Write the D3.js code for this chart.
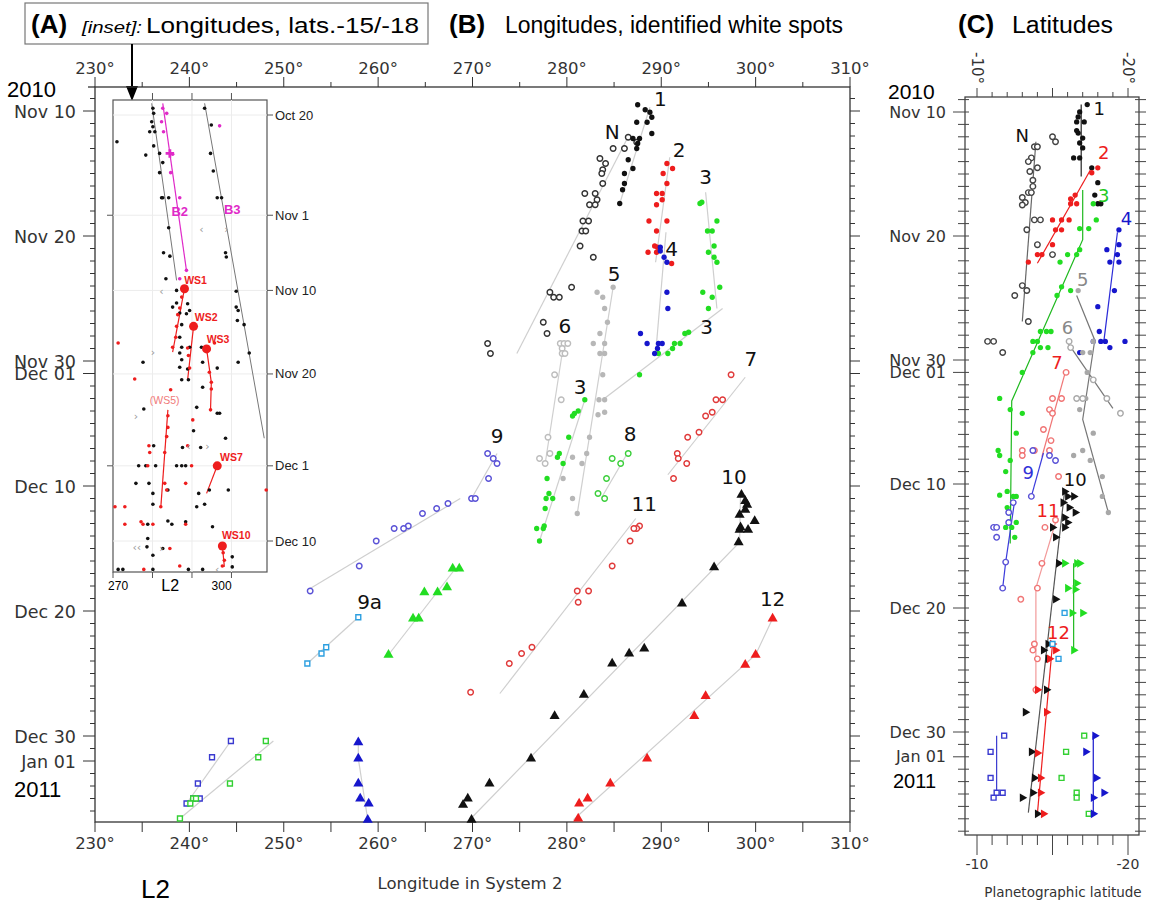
<!DOCTYPE html>
<html lang="en"><head>
<meta charset="utf-8">
<title>White spots: longitudes and latitudes</title>
<script src="https://cdnjs.cloudflare.com/ajax/libs/d3/7.8.5/d3.min.js"></script>
<style>
  body { margin: 0; background: #fff; }
  text { font-family: "DejaVu Sans", Verdana, sans-serif; }
  .arial { font-family: "Liberation Sans", Arial, sans-serif; }
</style>
</head>
<body>
<script>
// ---- panel B : [longitude System 2 (deg), days after 2010 Nov 10] ----
var bN = [[286.5,2.1],[287.4,2.5],[286.1,3.0],[284.9,3.0],[283.5,3.8],[284.1,4.2],[283.8,4.7],[283.7,5.0],[283.8,5.8],[281.9,6.6],[283.0,6.6],[283.2,7.1],[282.4,7.5],[283.0,7.5],[281.7,8.8],[282.3,8.8],[281.6,9.6],[282.0,9.6],[281.4,10.8],[282.8,11.7],[280.5,14.1],[278.2,14.5],[278.6,14.9],[279.2,14.9],[277.5,16.9],[277.9,17.8],[271.6,18.6],[271.9,19.4]];
var b1 = [[287.5,-0.5],[288.3,-0.1],[288.8,0.1],[287.4,0.9],[288.5,0.9],[289.0,0.5],[289.0,1.8],[287.7,2.2],[287.0,2.2],[287.5,2.6],[287.4,3.0],[286.5,3.9],[287.0,4.6],[286.1,5.0],[286.1,5.8],[285.9,6.3],[285.6,7.4]];
var b2 = [[290.6,4.2],[291.2,4.6],[290.2,5.0],[290.6,5.8],[289.5,6.6],[290.1,6.6],[290.1,7.1],[289.5,7.5],[288.7,8.8],[290.6,8.8],[289.5,9.6],[289.3,10.8],[289.6,10.9],[288.6,11.3],[289.5,11.3],[291.1,12.2]];
var b3 = [[294.3,7.3],[294.1,7.4],[295.9,8.8],[294.9,9.6],[295.4,9.6],[295.6,10.8],[295.0,11.3],[295.6,11.7],[295.9,12.1],[296.2,14.1],[294.4,14.5],[295.4,14.9],[295.0,15.8],[292.9,17.7],[292.5,17.8],[292.0,18.6],[291.4,18.6],[291.2,19.0],[290.7,19.4],[289.7,19.4],[287.7,21.1]];
var b4 = [[289.9,10.9],[289.9,11.2],[290.3,11.7],[290.6,12.1],[290.6,14.5],[290.7,15.8],[287.8,17.8],[288.5,18.6],[289.7,18.6],[290.1,18.6],[289.6,19.0],[289.3,19.4]];
var b5 = [[284.9,14.1],[283.2,14.5],[283.8,14.9],[284.0,15.8],[284.3,16.9],[283.5,17.8],[282.8,18.6],[284.0,18.6],[284.0,19.4],[283.5,19.4],[283.8,21.1],[283.4,23.1],[284.0,23.1],[283.3,24.3],[284.0,24.1],[282.4,26.1],[282.1,27.4],[281.6,28.2],[280.6,27.7],[279.6,29.4],[280.6,31.0],[281.1,32.2]];
var b6 = [[279.3,18.6],[279.7,18.6],[280.1,18.6],[279.5,19.0],[279.5,19.4],[279.8,19.4],[278.7,21.1],[279.4,23.1],[278.0,26.1],[278.2,27.4],[277.1,27.8],[277.7,28.2]];
var b3low = [[281.9,23.1],[281.2,24.0],[280.8,24.2],[280.6,24.4],[280.2,26.1],[279.2,27.4],[279.0,27.7],[279.6,28.2],[277.9,29.4],[278.1,30.6],[277.8,31.0],[278.5,31.0],[277.7,31.8],[277.6,33.2],[276.8,33.4],[277.5,33.4],[277.1,34.4]];
var b7 = [[297.4,21.1],[295.8,23.1],[296.5,23.1],[294.7,24.4],[295.4,24.1],[294.0,25.7],[292.8,26.1],[291.7,27.4],[291.8,27.8],[292.7,28.2],[291.3,29.4]];
var b8 = [[286.5,27.4],[284.8,27.8],[285.7,28.2],[284.2,29.4],[283.3,30.6],[284.0,31.0]];
var b9 = [[271.6,27.4],[272.2,27.8],[272.6,28.2],[271.7,29.4],[269.9,31.0],[270.3,31.0],[267.4,31.4],[266.2,31.8],[264.7,32.2],[263.2,33.2],[262.7,33.4],[261.7,33.4],[259.8,34.4],[258.0,36.4],[252.8,38.4]];
var b9a = [[257.9,40.5],[254.5,42.9],[254.0,43.4],[252.5,44.2]];
var bGt = [[267.9,36.6],[268.6,36.6],[264.9,38.5],[266.3,38.5],[267.3,38.1],[263.7,40.6],[264.3,40.6],[261.1,43.5]];
var b10 = [[298.5,30.7],[298.9,31.2],[299.1,31.5],[298.9,31.9],[298.3,32.3],[299.9,32.8],[298.4,33.3],[298.3,33.5],[299.2,33.5],[298.2,34.5],[295.6,36.5],[292.2,39.4],[288.2,43.0],[286.6,43.4],[284.8,44.2],[281.8,46.7],[278.7,48.4],[276.2,51.8],[271.8,53.8],[269.5,55.0],[269.0,55.5],[269.9,56.7]];
var b11 = [[287.7,33.2],[287.4,33.4],[287.1,33.4],[286.7,34.4],[284.8,36.4],[281.1,38.4],[282.3,38.4],[281.2,39.3],[276.3,42.9],[275.2,43.4],[273.9,44.2],[269.8,46.5]];
var b12 = [[301.8,40.6],[300.0,43.5],[298.9,44.3],[294.7,46.8],[293.5,48.4],[288.5,51.8],[284.6,53.8],[282.2,55.0],[281.3,55.4],[281.2,56.6]];
var bBs = [[244.4,50.4],[242.4,51.7],[240.9,53.8],[240.4,55.0],[241.1,55.0],[239.7,55.4]];
var bGs = [[248.1,50.4],[247.3,51.7],[244.3,53.8],[240.4,55.0],[240.7,55.0],[240.1,55.4],[239.0,56.6]];
var bBt = [[257.9,50.5],[257.9,51.8],[257.9,53.8],[258.1,55.0],[259.0,55.4],[258.9,56.7]];

// fitted tracks (panel B)
var bNLine = [[274.7,19.4],[286.4,2.2]];
var b1Line = [[285.6,7.4],[288.8,-0.3]];
var b2Line = [[289.4,12.1],[290.9,3.7]];
var b3Lines = [[[294.7,6.5],[295.9,15.8]], [[296.5,15.8],[283.8,23.1]]];
var b4Line = [[289.4,19.5],[290.5,9.7]];
var b5Line = [[284.9,14.1],[281.1,32.2]];
var b6Line = [[279.6,18.9],[277.7,28.2]];
var b3lowLine = [[281.9,23.1],[277.1,34.4]];
var b7Line = [[290.7,29.1],[298.9,21.3]];
var b8Line = [[286.4,27.4],[283.7,30.9]];
var b9Lines = [[[252.8,38.2],[268.7,31.0]], [[269.9,31.0],[272.6,27.4]]];
var b9aLine = [[252.5,44.2],[257.9,40.5]];
var bGtLine = [[261.1,43.5],[268.2,36.6]];
var b10Line = [[269.7,56.7],[298.3,34.5],[298.4,30.7]];
var b11Line = [[272.9,46.6],[287.3,32.6]];
var b12Line = [[280.7,56.7],[300.0,43.5],[301.8,40.6]];
var bBsLine = [[239.7,55.4],[244.4,50.4]];
var bGsLine = [[239.0,56.6],[248.9,50.4]];
var bBtLine = [[257.9,50.5],[257.9,51.8],[258.9,56.7]];

var labelsB = [["1",289.9,-1.0],["N",284.8,1.7],["2",291.9,3.1],["3",294.7,5.3],["4",291.1,11.0],["5",285.0,13.0],["6",279.8,17.2],["3",294.8,17.3],["7",299.5,19.8],["3",281.4,22.1],["8",286.7,25.8],["9",272.6,26.0],["10",297.7,29.3],["11",288.2,31.4],["12",301.8,39.0],["9a",259.1,39.3]];

// ---- panel C : [planetographic latitude (deg S), days after 2010 Nov 10] ----
var cN = [[13.8,2.8],[14.0,2.8],[13.6,3.7],[13.4,4.0],[14.0,4.5],[13.5,4.8],[13.7,5.5],[13.7,6.0],[13.4,6.5],[13.6,6.5],[13.0,6.9],[13.2,7.3],[13.0,7.5],[13.8,8.7],[14.2,8.7],[13.3,9.5],[14.0,10.7],[15.0,11.5],[13.0,14.0],[13.3,14.4],[12.5,14.8],[13.4,16.9],[15.0,2.0],[15.2,2.4],[10.7,18.5],[11.1,18.5],[11.7,19.4]];
var c1 = [[17.3,-0.6],[16.8,0],[16.7,0.4],[16.6,0.8],[17.1,0.8],[16.6,1.5],[16.7,1.7],[17.0,2.1],[16.8,2.5],[17.0,2.9],[16.4,3.7],[16.8,3.7],[17.6,4.5],[18.0,5.7],[17.8,6.7],[18.0,7.4],[18.2,7.4]];
var c2 = [[18.0,4.5],[17.6,4.9],[16.5,6.7],[16.2,7.0],[16.6,7.4],[16.2,7.4],[15.0,8.7],[15.6,8.7],[16.1,8.7],[15.2,9.5],[15.6,9.5],[15.0,10.7],[14.0,11.5],[14.3,11.5],[13.4,12.1]];
var c3 = [[17.7,7.4],[17.9,8.7],[16.8,9.4],[17.4,9.4],[16.8,11.1],[16.6,11.5],[16.0,11.5],[15.5,12.1],[15.6,14.1],[16.2,14.4],[15.3,14.8],[14.9,17.7],[14.6,17.7],[14.2,17.7],[14.0,18.5],[13.7,18.5],[14.2,19.0],[14.7,19.0],[13.7,19.4],[13.0,21.0],[11.5,23.1],[12.2,24.0],[13.0,24.3],[12.6,25.9],[11.4,27.3],[11.5,27.7],[12.2,28.1],[11.9,29.0],[12.0,30.6],[11.5,30.9],[12.4,31.0],[12.6,31.0],[12.0,31.9],[12.1,32.3],[12.6,33.1],[11.9,33.5],[12.3,33.5],[12.5,34.3]];
var c4 = [[19.4,9.5],[18.6,11.1],[19.4,10.7],[19.3,11.5],[18.8,12.1],[19.4,12.1],[19.1,14.4],[18.0,15.7],[18.1,17.7],[18.5,18.5],[18.2,18.5],[17.7,18.5],[18.8,19.0],[19.8,18.5],[16.8,19.4]];
var c5 = [[16.7,14.4],[17.7,18.5],[17.5,19.4],[17.0,19.4],[17.3,21.0],[17.2,23.1],[16.8,24.0],[17.7,25.9],[17.0,27.3],[16.4,27.7],[17.5,28.1],[18.3,29.4],[18.3,31.0],[18.7,32.3]];
var c6 = [[16.1,18.5],[16.2,19.0],[16.6,23.1],[17.0,23.1],[18.6,23.1],[19.5,24.3],[17.7,21.6]];
var c7 = [[15.9,21.0],[15.0,23.1],[15.6,23.1],[14.8,24.0],[15.0,24.3],[14.4,25.6],[14.9,26.5],[14.8,27.3],[13.8,27.3],[13.0,27.3]];
var c9 = [[13.7,27.3],[14.8,27.7],[15.2,28.1],[13.6,31.0],[12.4,31.5],[12.1,32.3],[12.1,33.1],[11.1,33.5],[11.3,33.5],[11.3,34.3],[11.9,36.3],[11.7,38.4]];
var c10 = [[15.8,30.6],[16.0,31.0],[16.4,31.0],[15.7,31.5],[16.1,31.9],[16.5,32.3],[15.8,32.7],[16.0,33.1],[15.8,33.5],[15.0,33.5],[15.2,34.3],[15.4,36.4],[15.2,39.3],[14.7,42.9],[14.4,43.4],[14.7,44.1],[14.6,46.6],[13.2,48.4],[13.6,51.6],[13.8,53.7],[13.7,54.9],[13.0,55.3],[14.0,56.6]];
var c11 = [[13.0,27.7],[15.4,29.4],[15.2,32.9],[14.5,33.5],[14.3,36.4],[14.0,38.4],[12.9,39.3],[13.8,42.9],[13.7,43.4],[14.0,44.1],[13.9,46.6]];
var c12 = [[14.4,56.6],[14.2,54.9],[14.2,53.7],[14.0,51.7],[14.6,48.4],[14.0,46.6],[14.8,44.1],[15.2,43.4],[15.0,42.9]];
var c9a = [[15.0,42.9],[15.4,44.1],[15.8,40.4]];
var cGt = [[15.8,36.4],[16.6,36.4],[16.8,36.4],[16.0,38.4],[16.5,38.5],[16.6,38.0],[16.3,40.4],[17.0,40.4],[16.4,43.4]];
var cBs = [[11.8,50.3],[10.9,51.6],[10.9,53.7],[11.1,55.3],[11.3,54.9],[11.7,54.9]];
var cGs = [[17.1,50.3],[15.9,51.6],[15.6,53.7],[16.6,54.9],[16.6,55.3],[17.4,56.6]];
var cBt = [[17.8,50.3],[17.2,51.6],[17.9,53.7],[18.4,54.9],[17.7,55.3],[17.7,56.6]];

var cNLine = [[13.0,16.9],[13.9,2.4]];
var c1Line = [[16.9,-0.6],[16.9,5.2]];
var c2Line = [[14.0,12.2],[17.5,4.7]];
var c3Line = [[17.0,6.3],[17.0,10.3],[12.3,23.3],[12.2,34.8]];
var c4Line = [[18.4,18.5],[19.3,9.7]];
var c5Line = [[16.6,14.8],[17.8,18.4],[17.0,24.8],[18.7,32.3]];
var c6Line = [[16.0,18.6],[19.0,23.9]];
var c7Line = [[14.3,27.8],[15.8,21.2]];
var c9Lines = [[[11.7,38.4],[11.9,36.3],[12.5,31.3]], [[13.6,31.0],[14.4,27.5]]];
var c10Line = [[13.4,56.5],[15.8,30.6]];
var c11Line = [[13.9,46.6],[13.9,38.4],[15.3,32.7]];
var c12Line = [[14.0,56.6],[15.0,42.9]];
var cGtLine = [[16.4,36.4],[16.4,43.4]];
var cBsLine = [[11.3,50.3],[11.3,54.9]];
var cBtLine = [[17.7,50.3],[17.7,56.6]];

// ---- inset A : [longitude L2 (deg), days after 2010 Oct 20] ----
var inBlack = [[280.1,-0.8],[280.3,-0.2],[279.8,0.8],[279.3,2.0],[280.6,2.0],[280.1,1.4],[271.0,3.2],[280.3,3.7],[278.3,4.8],[281.8,4.6],[282.6,5.7],[281.8,6.9],[282.3,9.9],[282.6,9.9],[284.1,9.9],[284.1,13.5],[282.8,16.5],[284.4,16.9],[283.4,19.6],[286.1,21.0],[285.1,23.0],[286.1,22.5],[288.9,22.6],[289.4,23.4],[286.9,23.7],[288.6,23.8],[287.4,25.1],[286.9,26.6],[287.4,27.8],[286.9,28.5],[287.4,29.3],[277.6,29.6],[286.9,30.2],[288.9,30.4],
  [293.2,-0.8],[294.9,1.2],[294.7,4.6],[295.4,6.7],[296.4,9.9],[297.5,9.9],[298.5,16.5],[298.7,17.0],[301.2,21.1],[301.2,23.0],[301.7,23.4],[301.5,24.6],[303.2,25.1],[304.5,28.5],[301.7,29.6],
  [289.4,27.8],[292.4,27.8],[292.7,29.6],[296.4,30.3],[287.4,31.7],[289.1,31.7],[291.2,35.0],[292.7,32.6],[296.4,35.7],[297.0,35.7],[277.8,35.2],[280.3,39.6],[287.6,39.8],[290.4,37.8],[292.2,39.8],[298.5,38.7],
  [276.5,42.0],[278.3,42.0],[280.8,42.0],[286.1,42.0],[287.4,42.0],[288.4,42.0],[275.8,44.1],[279.1,44.1],[280.1,45.3],[283.9,44.9],[291.7,45.3],[294.4,44.9],[299.2,44.9],[280.1,46.6],[291.2,46.9],[293.2,46.6],[283.9,48.6],[284.9,49.0],[278.8,49.0],[278.8,50.7],[288.4,48.7],[295.2,49.3],[278.6,51.7],[280.1,52.7],[282.6,51.9],[271.3,54.4],[272.5,54.4],[280.1,54.4],[289.1,54.4],[292.7,54.4],[300.2,54.1],[300.2,52.9]];
var inMagenta = [[282.6,-0.8],[283.6,-0.2],[282.3,0.8],[282.8,2.0],[285.1,4.7],[284.6,6.9],[286.9,9.9],[288.6,18.6],[286.9,19.6],[297.0,1.3]];
var inRed = [[287.4,21.8],[286.9,23.1],[286.4,23.9],[286.1,25.3],[285.9,26.6],[285.1,27.8],[288.9,27.9],[289.1,28.8],[289.4,30.3],[294.4,30.8],[294.9,32.0],[294.9,32.8],[294.7,35.3],[283.9,36.0],[283.9,37.4],[283.6,38.5],[283.1,40.4],[283.1,44.1],[283.6,44.9],[282.1,46.9],[297.9,52.4],[298.2,53.3],[297.7,54.0],
  [271.3,27.3],[275.5,31.6],[284.6,32.9],[290.2,36.5],[279.1,39.6],[279.3,40.4],[288.9,39.6],[278.8,42.0],[289.9,42.0],[288.4,44.1],[270.5,46.9],[273.0,46.9],[273.0,49.0],[277.1,48.7],[277.6,49.0],[280.1,49.0],[288.4,49.0],[284.4,51.9],[277.8,54.4],[286.9,54.0],[308.8,44.9],[295.7,27.3]];
var inWS = [[288.1,20.8],[290.4,25.3],[293.7,28.0],[296.4,42.0],[297.7,51.6]];
var inWSLines = [[[288.1,20.8],[285.1,28.4]], [[290.4,25.3],[288.9,31.7]], [[293.7,28.0],[294.9,32.0],[294.7,35.3]], [[283.9,35.3],[282.1,47.0]], [[296.4,42.0],[293.7,45.3]], [[297.7,51.6],[298.2,54.1]]];
var inB2Line = [[282.6,-1.4],[288.6,18.6]];
var inGrayLines = [[[279.8,-1.4],[286.1,19.8]], [[293.2,-1.4],[308.3,38.7]]];
var inChevrons = [["\u2039",292.4,13.7],["\u203A",298.7,13.7],["\u2039",282.3,21.1],["\u203A",280.1,28.4],["\u203A",275.8,36.0],["\u2039",289.1,39.6],["\u203A",293.9,39.6],["\u2039",275.5,51.7],["\u2039",276.6,51.7],["\u203A",282.3,51.9],["\u2039",296.4,54.4]];
var inLabels = [["B2",286.9,11.5,"#e02ac8"],["B3",300.2,11.3,"#e02ac8"],["WS1",290.9,19.8,"#ee1d1d"],["WS2",293.6,24.2,"#ee1d1d"],["WS3",296.6,26.8,"#ee1d1d"],["(WS5)",283.1,34.1,"#f07a7a"],["WS7",300.0,41.0,"#ee1d1d"],["WS10",301.2,50.3,"#ee1d1d"]];
var inDates = [[0,"Oct 20"],[12,"Nov 1"],[21,"Nov 10"],[31,"Nov 20"],[42,"Dec 1"],[51,"Dec 10"]];

// ---- shared date ticks / labels (days after Nov 10) ----
var dateLabels = [[0,"Nov 10"],[10,"Nov 20"],[20,"Nov 30"],[21,"Dec 01"],[30,"Dec 10"],[40,"Dec 20"],[50,"Dec 30"],[52,"Jan 01"]];
var lonTicks = [230,240,250,260,270,280,290,300,310];
var latTicks = [10,11,12,13,14,15,16,17,18,19,20];

var red = "#ee1d1d", green = "#22dd22", blue = "#1616cc", black = "#111", purple = "#5a52d6",
    lblue = "#2c9fe0", lred = "#f07575", magenta = "#e02ac8";

var svg = d3.select("body").append("svg").attr("width", 1149).attr("height", 915);

// scales
var xB = d3.scaleLinear().domain([230, 310]).range([95, 850]);
var yB = d3.scaleLinear().domain([0, 50]).range([111, 736]);
var xC = d3.scaleLinear().domain([10, 20]).range([977, 1128]);
var yC = d3.scaleLinear().domain([0, 50]).range([112, 732]);
var xI = d3.scaleLinear().domain([270, 309]).range([113, 267]);
var yI = d3.scaleLinear().domain([0, 51]).range([115, 541]);

var symbols = { dot: [d3.symbolCircle, 22], ring: [d3.symbolCircle, 24], tri: [d3.symbolTriangle, 44], sq: [d3.symbolSquare, 24] };

function plot(g, list, x, y, rightTri) {
  list.forEach(function(s) {
    (s.lines || []).forEach(function(l) {
      g.append("path")
        .attr("d", d3.line().x(function(d){ return x(d[0]); }).y(function(d){ return y(d[1]); })(l))
        .attr("fill", "none").attr("stroke", s.lineColor).attr("stroke-width", 1.2);
    });
  });
  list.forEach(function(s) {
    var sym = symbols[s.shape];
    var size = (rightTri && s.shape == "tri") ? 32 : sym[1];
    var open = s.shape == "ring" || s.shape == "sq";
    g.append("g").selectAll("path").data(s.pts).join("path")
      .attr("transform", function(d) {
        return "translate(" + x(d[0]) + "," + y(d[1]) + ")" + (rightTri && s.shape == "tri" ? " rotate(90)" : "");
      })
      .attr("d", d3.symbol(sym[0], size))
      .attr("fill", open ? "#fff" : s.color)
      .attr("stroke", open ? s.color : "none")
      .attr("stroke-width", open ? 1.4 : 0);
  });
}

// ================= titles =================
svg.append("rect").attr("x", 25).attr("y", 3).attr("width", 403).attr("height", 41)
  .attr("fill", "none").attr("stroke", "#777").attr("stroke-width", 1.2);
svg.append("text").attr("class", "arial").attr("x", 31).attr("y", 33).attr("font-weight", "bold").attr("font-size", 26).text("(A)");
svg.append("text").attr("class", "arial").attr("x", 82).attr("y", 33).attr("font-style", "italic").attr("font-size", 17)
  .attr("textLength", 60).attr("lengthAdjust", "spacingAndGlyphs").text("[inset]:");
svg.append("text").attr("class", "arial").attr("x", 146).attr("y", 33).attr("font-size", 22)
  .attr("textLength", 273).attr("lengthAdjust", "spacingAndGlyphs").text("Longitudes, lats.-15/-18");
svg.append("text").attr("class", "arial").attr("x", 449).attr("y", 33).attr("font-weight", "bold").attr("font-size", 26).text("(B)");
svg.append("text").attr("class", "arial").attr("x", 505).attr("y", 33).attr("font-size", 23)
  .attr("textLength", 338).attr("lengthAdjust", "spacingAndGlyphs").text("Longitudes, identified white spots");
svg.append("text").attr("class", "arial").attr("x", 958).attr("y", 33).attr("font-weight", "bold").attr("font-size", 26).text("(C)");
svg.append("text").attr("class", "arial").attr("x", 1012).attr("y", 33).attr("font-size", 23)
  .attr("textLength", 101).attr("lengthAdjust", "spacingAndGlyphs").text("Latitudes");

// arrow from the inset box
svg.append("line").attr("x1", 132).attr("y1", 44).attr("x2", 132).attr("y2", 88).attr("stroke", "#000").attr("stroke-width", 2);
svg.append("path").attr("d", "M126,86 L138,86 L132,101 Z").attr("fill", "#000");

// ================= panel B frame =================
var gB = svg.append("g");
var bTop = 87, bBot = 822, bL = 95, bR = 850;
gB.append("rect").attr("x", bL).attr("y", bTop).attr("width", bR - bL).attr("height", bBot - bTop)
  .attr("fill", "none").attr("stroke", "#333").attr("stroke-width", 1.3);
gB.append("line").attr("x1", 88).attr("x2", bL).attr("y1", bTop).attr("y2", bTop).attr("stroke", "#333").attr("stroke-width", 1.3);

var lonMinor = d3.range(235, 310, 10);
lonTicks.forEach(function(v) {
  gB.append("line").attr("x1", xB(v)).attr("x2", xB(v)).attr("y1", bTop).attr("y2", bTop - 10).attr("stroke", "#333");
  gB.append("line").attr("x1", xB(v)).attr("x2", xB(v)).attr("y1", bBot).attr("y2", bBot + 10).attr("stroke", "#333");
  gB.append("text").attr("x", xB(v)).attr("y", 74).attr("text-anchor", "middle").attr("font-size", 16.5).attr("fill", "#333").text(v + "\u00B0");
  gB.append("text").attr("x", xB(v)).attr("y", 849).attr("text-anchor", "middle").attr("font-size", 16.5).attr("fill", "#333").text(v + "\u00B0");
});
lonMinor.forEach(function(v) {
  gB.append("line").attr("x1", xB(v)).attr("x2", xB(v)).attr("y1", bTop).attr("y2", bTop - 5).attr("stroke", "#333");
  gB.append("line").attr("x1", xB(v)).attr("x2", xB(v)).attr("y1", bBot).attr("y2", bBot + 10).attr("stroke", "#333");
});

var majorDays = dateLabels.map(function(d){ return d[0]; });
d3.range(-1, 57).forEach(function(d) {
  var len = majorDays.indexOf(d) >= 0 ? 12 : 5;
  gB.append("line").attr("x1", bL - len).attr("x2", bL).attr("y1", yB(d)).attr("y2", yB(d)).attr("stroke", "#333");
  gB.append("line").attr("x1", bR).attr("x2", bR + (len > 5 ? 10 : 5)).attr("y1", yB(d)).attr("y2", yB(d)).attr("stroke", "#333");
});
dateLabels.forEach(function(d) {
  gB.append("text").attr("x", 76).attr("y", yB(d[0]) + 6.5).attr("text-anchor", "end").attr("font-size", 17.5).attr("fill", "#333").text(d[1]);
});
gB.append("text").attr("class", "arial").attr("x", 7).attr("y", 97).attr("font-size", 22).text("2010");
gB.append("text").attr("class", "arial").attr("x", 14).attr("y", 797).attr("font-size", 22).text("2011");
gB.append("text").attr("class", "arial").attr("x", 141).attr("y", 898).attr("font-size", 26).text("L2");
gB.append("text").attr("x", 470).attr("y", 889).attr("text-anchor", "middle").attr("font-size", 16.5).attr("fill", "#333").text("Longitude in System 2");

// ================= panel B data =================
var seriesB = [
  { pts: bN, shape: "ring", color: "#333", lineColor: "#cfcfcf", lines: [bNLine] },
  { pts: b1, shape: "dot", color: black, lineColor: "#cfcfcf", lines: [b1Line] },
  { pts: b2, shape: "dot", color: red, lineColor: "#cfcfcf", lines: [b2Line] },
  { pts: b3, shape: "dot", color: green, lineColor: "#cfcfcf", lines: b3Lines },
  { pts: b4, shape: "dot", color: blue, lineColor: "#cfcfcf", lines: [b4Line] },
  { pts: b5, shape: "dot", color: "#b7b7b7", lineColor: "#cfcfcf", lines: [b5Line] },
  { pts: b6, shape: "ring", color: "#bdbdbd", lineColor: "#cfcfcf", lines: [b6Line] },
  { pts: b3low, shape: "dot", color: green, lineColor: "#cfcfcf", lines: [b3lowLine] },
  { pts: b7, shape: "ring", color: "#e03a3a", lineColor: "#cfcfcf", lines: [b7Line] },
  { pts: b8, shape: "ring", color: "#3ccf3c", lineColor: "#cfcfcf", lines: [b8Line] },
  { pts: b9, shape: "ring", color: purple, lineColor: "#cfcfcf", lines: b9Lines },
  { pts: b9a, shape: "sq", color: lblue, lineColor: "#cfcfcf", lines: [b9aLine] },
  { pts: bGt, shape: "tri", color: green, lineColor: "#cfcfcf", lines: [bGtLine] },
  { pts: b10, shape: "tri", color: black, lineColor: "#cfcfcf", lines: [b10Line] },
  { pts: b11, shape: "ring", color: "#e03a3a", lineColor: "#cfcfcf", lines: [b11Line] },
  { pts: b12, shape: "tri", color: red, lineColor: "#cfcfcf", lines: [b12Line] },
  { pts: bBs, shape: "sq", color: "#3a3ad0", lineColor: "#cfcfcf", lines: [bBsLine] },
  { pts: bGs, shape: "sq", color: "#33d033", lineColor: "#cfcfcf", lines: [bGsLine] },
  { pts: bBt, shape: "tri", color: blue, lineColor: "#cfcfcf", lines: [bBtLine] }
];
plot(gB.append("g"), seriesB, xB, yB, false);

gB.selectAll("text.lab").data(labelsB).join("text").attr("class", "lab")
  .attr("x", function(d){ return xB(d[1]); }).attr("y", function(d){ return yB(d[2]); })
  .attr("dy", "0.36em").attr("text-anchor", "middle").attr("font-size", 20).attr("fill", "#111")
  .text(function(d){ return d[0]; });

// ================= inset A =================
var gI = svg.append("g");
gI.append("rect").attr("x", 113).attr("y", 100).attr("width", 154).attr("height", 472).attr("fill", "#fff").attr("stroke", "#555").attr("stroke-width", 1.2);
[280, 290, 300].forEach(function(v) {
  gI.append("line").attr("x1", xI(v)).attr("x2", xI(v)).attr("y1", 100).attr("y2", 572).attr("stroke", "#ececec");
  gI.append("line").attr("x1", xI(v)).attr("x2", xI(v)).attr("y1", 100).attr("y2", 93).attr("stroke", "#555");
});
[270, 280, 290, 300].forEach(function(v) {
  gI.append("line").attr("x1", xI(v)).attr("x2", xI(v)).attr("y1", 572).attr("y2", 578).attr("stroke", "#555");
});
inDates.forEach(function(d) {
  gI.append("line").attr("x1", 113).attr("x2", 267).attr("y1", yI(d[0])).attr("y2", yI(d[0])).attr("stroke", "#ececec");
  gI.append("line").attr("x1", 267).attr("x2", 273).attr("y1", yI(d[0])).attr("y2", yI(d[0])).attr("stroke", "#555");
  gI.append("text").attr("class", "arial").attr("x", 275).attr("y", yI(d[0]) + 4.5).attr("font-size", 13).attr("fill", "#222").text(d[1]);
});
[12, 42].forEach(function(d) {
  gI.append("line").attr("x1", 107).attr("x2", 113).attr("y1", yI(d)).attr("y2", yI(d)).attr("stroke", "#555");
});
gI.append("text").attr("class", "arial").attr("x", xI(271.3)).attr("y", 590).attr("text-anchor", "middle").attr("font-size", 12).text("270");
gI.append("text").attr("class", "arial").attr("x", xI(284.5)).attr("y", 591).attr("text-anchor", "middle").attr("font-size", 16).text("L2");
gI.append("text").attr("class", "arial").attr("x", xI(297.5)).attr("y", 590).attr("text-anchor", "middle").attr("font-size", 12).text("300");

var lineI = d3.line().x(function(d){ return xI(d[0]); }).y(function(d){ return yI(d[1]); });
inGrayLines.forEach(function(l) {
  gI.append("path").attr("d", lineI(l)).attr("fill", "none").attr("stroke", "#777").attr("stroke-width", 1);
});
gI.append("path").attr("d", lineI(inB2Line)).attr("fill", "none").attr("stroke", magenta).attr("stroke-width", 1.2);
inWSLines.forEach(function(l) {
  gI.append("path").attr("d", lineI(l)).attr("fill", "none").attr("stroke", red).attr("stroke-width", 1.2);
});
gI.selectAll("circle.k").data(inBlack).join("circle").attr("class", "k")
  .attr("cx", function(d){ return xI(d[0]); }).attr("cy", function(d){ return yI(d[1]); }).attr("r", 1.8).attr("fill", "#111");
gI.selectAll("circle.m").data(inMagenta).join("circle").attr("class", "m")
  .attr("cx", function(d){ return xI(d[0]); }).attr("cy", function(d){ return yI(d[1]); }).attr("r", 1.8).attr("fill", magenta);
gI.append("path").attr("transform", "translate(" + xI(284.4) + "," + yI(4.6) + ")")
  .attr("d", d3.symbol(d3.symbolCross, 40)).attr("fill", magenta);
gI.selectAll("circle.r").data(inRed).join("circle").attr("class", "r")
  .attr("cx", function(d){ return xI(d[0]); }).attr("cy", function(d){ return yI(d[1]); }).attr("r", 1.8).attr("fill", red);
gI.selectAll("circle.ws").data(inWS).join("circle").attr("class", "ws")
  .attr("cx", function(d){ return xI(d[0]); }).attr("cy", function(d){ return yI(d[1]); }).attr("r", 4.5).attr("fill", red);
gI.selectAll("text.ch").data(inChevrons).join("text").attr("class", "ch")
  .attr("x", function(d){ return xI(d[1]); }).attr("y", function(d){ return yI(d[2]); }).attr("dy", "0.35em")
  .attr("text-anchor", "middle").attr("font-size", 11).attr("fill", "#999").text(function(d){ return d[0]; });
gI.selectAll("text.il").data(inLabels).join("text").attr("class", "il arial")
  .attr("x", function(d){ return xI(d[1]); }).attr("y", function(d){ return yI(d[2]); }).attr("dy", "0.35em")
  .attr("text-anchor", "middle").attr("font-weight", function(d){ return d[0] == "(WS5)" ? "normal" : "bold"; })
  .attr("font-size", function(d){ return d[0].charAt(0) == "B" ? 13 : 10.5; })
  .attr("fill", function(d){ return d[3]; }).text(function(d){ return d[0]; });

// ================= panel C =================
var gC = svg.append("g");
var cTop = 97, cBot = 835, cL = 965, cR = 1139;
gC.append("rect").attr("x", cL).attr("y", cTop).attr("width", cR - cL).attr("height", cBot - cTop)
  .attr("fill", "none").attr("stroke", "#444").attr("stroke-width", 1.3);
latTicks.forEach(function(v) {
  var major = v % 5 == 0;
  gC.append("line").attr("x1", xC(v)).attr("x2", xC(v)).attr("y1", cTop).attr("y2", cTop - (major ? 9 : 5)).attr("stroke", "#444");
  gC.append("line").attr("x1", xC(v)).attr("x2", xC(v)).attr("y1", cBot).attr("y2", cBot + (major ? 20 : 10)).attr("stroke", "#444");
});
[10, 20].forEach(function(v) {
  gC.append("text").attr("transform", "translate(" + (xC(v) - 5) + ",52) rotate(90)").attr("font-size", 15).attr("fill", "#333").text("-" + v + "\u00B0");
  gC.append("text").attr("x", xC(v)).attr("y", 869).attr("text-anchor", "middle").attr("font-size", 14).attr("fill", "#333").text("-" + v);
});
d3.range(-1, 59).forEach(function(d) {
  if (yC(d) < cTop || yC(d) > cBot) return;
  var major = majorDays.indexOf(d) >= 0;
  gC.append("line").attr("x1", cL - (major ? 12 : 7)).attr("x2", cL + 4).attr("y1", yC(d)).attr("y2", yC(d)).attr("stroke", "#444");
  gC.append("line").attr("x1", cR - 4).attr("x2", cR + 7).attr("y1", yC(d)).attr("y2", yC(d)).attr("stroke", "#444");
});
dateLabels.forEach(function(d) {
  gC.append("text").attr("x", 946).attr("y", yC(d[0]) + 5.5).attr("text-anchor", "end").attr("font-size", 16).attr("fill", "#333").text(d[1]);
});
gC.append("text").attr("class", "arial").attr("x", 888).attr("y", 99).attr("font-size", 21).text("2010");
gC.append("text").attr("class", "arial").attr("x", 893).attr("y", 788).attr("font-size", 20).text("2011");
gC.append("text").attr("x", 1063).attr("y", 897).attr("text-anchor", "middle").attr("font-size", 13.5).attr("fill", "#333").text("Planetographic latitude");

var seriesC = [
  { pts: cN, shape: "ring", color: "#444", lineColor: "#666", lines: [cNLine] },
  { pts: c1, shape: "dot", color: black, lineColor: "#222", lines: [c1Line] },
  { pts: c2, shape: "dot", color: red, lineColor: red, lines: [c2Line] },
  { pts: c3, shape: "dot", color: green, lineColor: "#1fb91f", lines: [c3Line] },
  { pts: c4, shape: "dot", color: blue, lineColor: "#2b2bd8", lines: [c4Line] },
  { pts: c5, shape: "dot", color: "#a8a8a8", lineColor: "#777", lines: [c5Line] },
  { pts: c6, shape: "ring", color: "#aaa", lineColor: "#777", lines: [c6Line] },
  { pts: c7, shape: "ring", color: lred, lineColor: lred, lines: [c7Line] },
  { pts: c9, shape: "ring", color: purple, lineColor: "#3c3cdc", lines: c9Lines },
  { pts: c11, shape: "ring", color: lred, lineColor: "#f29a9a", lines: [c11Line] },
  { pts: c10, shape: "tri", color: black, lineColor: "#555", lines: [c10Line] },
  { pts: c12, shape: "tri", color: red, lineColor: red, lines: [c12Line] },
  { pts: c9a, shape: "sq", color: lblue, lineColor: lblue, lines: [] },
  { pts: cGt, shape: "tri", color: green, lineColor: "#1fb91f", lines: [cGtLine] },
  { pts: cBs, shape: "sq", color: "#3a3ad0", lineColor: "#3a3ad0", lines: [cBsLine] },
  { pts: cGs, shape: "sq", color: "#33d033", lineColor: "#33d033", lines: [] },
  { pts: cBt, shape: "tri", color: blue, lineColor: blue, lines: [cBtLine] }
];
plot(gC.append("g"), seriesC, xC, yC, true);

var labelsC = [["1",18.1,-0.3,black],["N",13.0,1.9,black],["2",18.4,3.3,red],["3",18.4,6.7,"#1fc91f"],["4",19.9,8.6,blue],["5",17.0,13.5,"#888"],["6",16.0,17.4,"#888"],["7",15.3,20.2,red],["9",13.4,29.1,"#3232d8"],["10",16.5,29.6,black],["11",14.7,32.1,red],["12",15.4,42.0,red]];
gC.selectAll("text.lab").data(labelsC).join("text").attr("class", "lab")
  .attr("x", function(d){ return xC(d[1]); }).attr("y", function(d){ return yC(d[2]); })
  .attr("dy", "0.36em").attr("text-anchor", "middle").attr("font-size", 18)
  .attr("fill", function(d){ return d[3]; }).text(function(d){ return d[0]; });
</script>
</body>
</html>
